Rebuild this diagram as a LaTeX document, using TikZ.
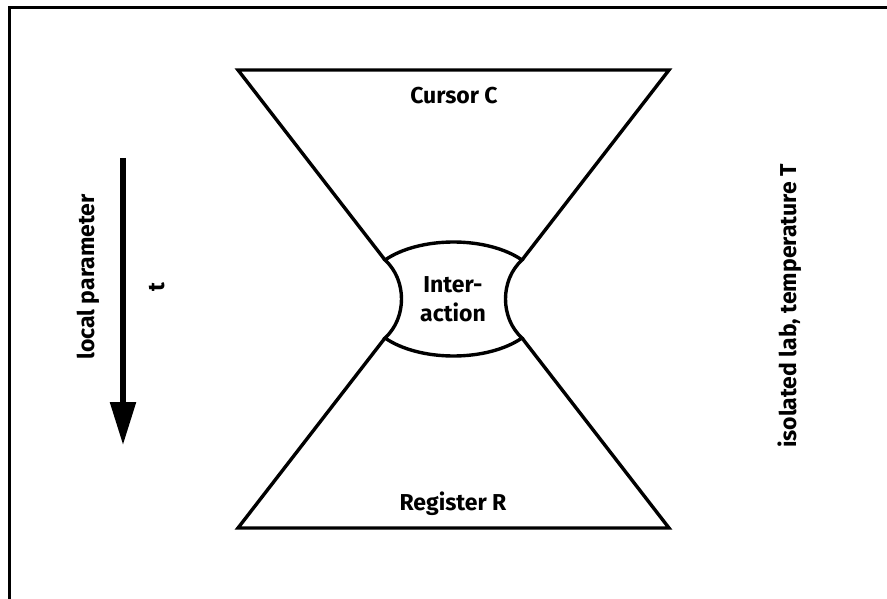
\documentclass[tikz,border=0pt]{standalone}
\usepackage{fontspec}
\setmainfont{Fira Sans}
\usetikzlibrary{arrows.meta}
\begin{document}
\begin{tikzpicture}[x=1pt,y=-1pt,
    shape line/.style={line width=3.4pt, line join=miter},
    label text/.style={font=\bfseries\fontsize{23}{29}\selectfont, align=center, inner sep=0pt}]
  \useasboundingbox (0,0) rectangle (887,599);

  % Lab Frame
  \draw[line width=3pt] (9,599) -- (9,8) -- (887,8);

  % Cursor Section
  \draw[shape line] (385,260) -- (238,70) -- (669,70) -- (522,260);
  \node[label text] (cursor) at (454,96) {Cursor C};

  % Interaction Section
  \draw[shape line] (385,260) .. controls (420,236) and (487,236) .. (522,260)
    .. controls (500,280) and (500,318) .. (522,338)
    .. controls (487,362) and (420,362) .. (385,338)
    .. controls (407,318) and (407,280) .. (385,260) -- cycle;
  \node[label text] (interaction) at (453,299) {Inter-\\action};

  % Register Section
  \draw[shape line] (385,338) -- (238,528) -- (669,528) -- (522,338);
  \node[label text] (register) at (453,504) {Register R};

  % Local Parameter
  \coordinate (tstart) at (123,158);
  \coordinate (tend) at (123,445);
  \draw[line width=5.5pt, -{Triangle[length=43pt,width=25pt]}] (tstart) -- (tend);
  \node[label text, rotate=90] (param) at (88,277) {local parameter};
  \node[label text, rotate=90] (tlabel) at (157,287) {t};

  % Lab Label
  \node[label text, rotate=90] (lab) at (790,306) {isolated lab, temperature T};
\end{tikzpicture}
\end{document}
